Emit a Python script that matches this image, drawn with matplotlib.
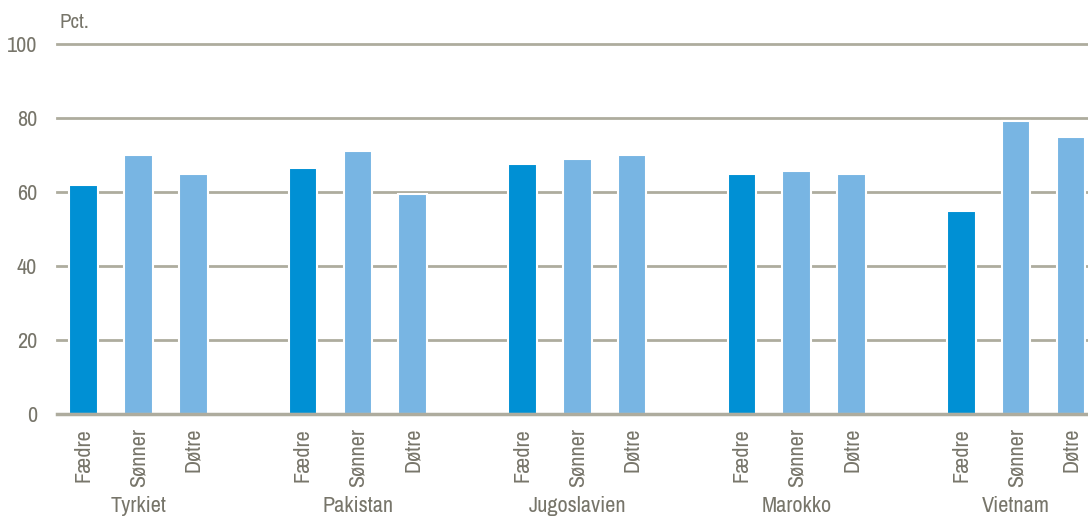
import matplotlib
matplotlib.use("Agg")
import matplotlib.pyplot as plt
from matplotlib import font_manager

# data
countries = ["Tyrkiet", "Pakistan", "Jugoslavien", "Marokko", "Vietnam"]
members = ["Fædre", "Sønner", "Døtre"]
faedre = [61.8, 66.6, 67.7, 65.0, 54.8]
sonner = [69.9, 71.0, 68.8, 65.6, 79.2]
dotre = [65.0, 59.5, 69.9, 65.0, 74.9]

names = {f.name for f in font_manager.fontManager.ttflist}
fam = "Liberation Sans"
for cand in ["Liberation Sans Narrow", "Archivo Narrow", "PT Sans Narrow", "Roboto Condensed"]:
    if cand in names:
        fam = cand
        break
plt.rcParams["font.family"] = [fam, "DejaVu Sans"]

txt = "#77756a"
grid = "#aeac9e"
dark = "#0090d4"
light = "#78b5e3"

fig = plt.figure(figsize=(10.88, 5.17), dpi=100)
ax = fig.add_axes([0.0521, 0.1992, 0.9479, 0.7157])

pos, heights, cols, labels = [], [], [], []
for g in range(len(countries)):
    vals = [faedre[g], sonner[g], dotre[g]]
    for k in range(3):
        pos.append(g * 4 + k)
        heights.append(vals[k])
        cols.append(dark if k == 0 else light)
        labels.append(members[k])

for y in [20, 40, 60, 80, 100]:
    ax.axhline(y, color=grid, lw=2, zorder=1, clip_on=False)
ax.axhline(0, color=grid, lw=2.5, zorder=3, clip_on=False)

ax.bar(pos, heights, width=0.52, color=cols, edgecolor="white", linewidth=1.5, zorder=2)

ax.set_xlim(-0.49, 18.31)
ax.set_ylim(0, 100)
for s in ax.spines.values():
    s.set_visible(False)

ax.set_yticks([0, 20, 40, 60, 80, 100])
ax.tick_params(axis="y", length=0, pad=14, labelsize=16, labelcolor=txt)
ax.set_xticks(pos)
ax.set_xticklabels(labels, rotation=90, fontsize=16, color=txt)
ax.tick_params(axis="x", length=0, pad=10)

for g, c in enumerate(countries):
    ax.text(g * 4 + 1, -24.9, c, ha="center", va="center", fontsize=16, color=txt)

ax.text(-0.44, 105.8, "Pct.", fontsize=15, color=txt, ha="left", va="center")

fig.savefig("out.png", dpi=100)
